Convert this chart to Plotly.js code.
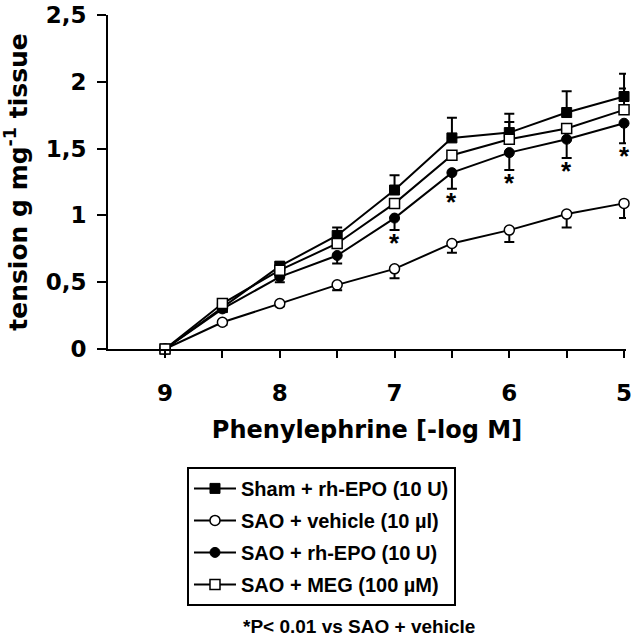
<!DOCTYPE html>
<html><head><meta charset="utf-8">
<script src="https://cdn.plot.ly/plotly-3.0.1.min.js"></script>
<style>html,body{margin:0;padding:0;background:#fff;}#chart{width:631px;height:640px;}</style>
</head><body><div id="chart"></div>
<script>
const doses = [9, 8.5, 8, 7.5, 7, 6.5, 6, 5.5, 5];
const seriesNames = ["Sham + rh-EPO (10 U)", "SAO + vehicle (10 µl)", "SAO + rh-EPO (10 U)", "SAO + MEG (100 µM)"];
const shamEpo = [0, 0.31, 0.62, 0.85, 1.19, 1.58, 1.62, 1.77, 1.89];
const shamEpoErrUp = [0, 0.02, 0.03, 0.06, 0.11, 0.15, 0.14, 0.16, 0.17];
const saoVehicle = [0, 0.20, 0.34, 0.48, 0.60, 0.79, 0.89, 1.01, 1.09];
const saoVehicleErrDown = [0, 0.02, 0.02, 0.04, 0.07, 0.07, 0.09, 0.10, 0.11];
const saoEpo = [0, 0.30, 0.54, 0.70, 0.98, 1.32, 1.47, 1.57, 1.69];
const saoEpoErrDown = [0, 0.02, 0.04, 0.06, 0.09, 0.12, 0.13, 0.14, 0.15];
const saoMeg = [0, 0.34, 0.59, 0.79, 1.09, 1.45, 1.57, 1.65, 1.79];
const saoMegErrUp = [0, 0, 0, 0, 0, 0, 0.13, 0, 0.16];
const significant = [false, false, false, false, true, true, true, true, true];
const yTickVals = [0, 0.5, 1, 1.5, 2, 2.5];
const xTickVals = [9, 8, 7, 6, 5];
const xTickText = ["9", "8", "7", "6", "5"];
const footnote = "*P< 0.01 vs SAO + vehicle";

const AXFONT = "DejaVu Sans, Verdana, sans-serif";
const FONT = "Liberation Sans, Arial, sans-serif";
const lineStyle = {color: "#000", width: 2};
function errUp(arr){return {type:"data", symmetric:false, array:arr, arrayminus:arr.map(()=>0), color:"#000", thickness:2, width:5};}
function errDown(arr){return {type:"data", symmetric:false, array:arr.map(()=>0), arrayminus:arr, color:"#000", thickness:2, width:5};}

const traces = [
  {x: doses, y: shamEpo, name: seriesNames[0], legendgroup: "a", mode: "lines+markers", line: lineStyle,
   marker: {symbol: "square", size: 10, color: "#000", line: {color: "#000", width: 1}}, error_y: errUp(shamEpoErrUp), cliponaxis:false},
  {x: doses, y: saoVehicle, name: seriesNames[1], legendgroup: "b", mode: "lines+markers", line: lineStyle,
   marker: {symbol: "circle", size: 10, color: "#fff", line: {color: "#000", width: 1.5}}, error_y: errDown(saoVehicleErrDown), cliponaxis:false},
  {x: doses, y: saoEpo, name: seriesNames[2], legendgroup: "c", mode: "lines+markers", line: lineStyle,
   marker: {symbol: "circle", size: 10, color: "#000", line: {color: "#000", width: 1}}, error_y: errDown(saoEpoErrDown), cliponaxis:false},
  {x: doses, y: saoMeg, name: seriesNames[3], legendgroup: "d", mode: "lines+markers", line: lineStyle,
   marker: {symbol: "square", size: 10, color: "#fff", line: {color: "#000", width: 1.5}}, error_y: errUp(saoMegErrUp), cliponaxis:false}
];

const annotations = [];
doses.forEach((d, i) => {
  if (significant[i]) {
    annotations.push({x: d, y: saoEpo[i] - saoEpoErrDown[i], xref: "x", yref: "y", text: "*", showarrow: false,
      yanchor: "top", yshift: 4, font: {family: FONT, size: 26, color: "#000", weight: "bold"}});
  }
});
annotations.push({x: 0.4846, y: -0.83, xref: "paper", yref: "paper", text: footnote, showarrow: false,
  xanchor: "center", yanchor: "middle", font: {family: FONT, size: 19, color: "#000", weight: "bold"}});

const layout = {
  width: 631, height: 640,
  margin: {l: 108, r: 5, t: 15, b: 291},
  paper_bgcolor: "#fff", plot_bgcolor: "#fff",
  separators: ",.",
  showlegend: true,
  font: {family: FONT, color: "#000"},
  xaxis: {
    range: [9.497, 4.983], autorange: false,
    tickvals: xTickVals, ticktext: xTickText,
    ticks: "outside", ticklen: 7, tickwidth: 2, tickcolor: "#000",
    minor: {dtick: 0.5, tick0: 5, ticks: "outside", ticklen: 7, tickwidth: 2, tickcolor: "#000"},
    showline: true, linecolor: "#000", linewidth: 2,
    showgrid: false, zeroline: false,
    ticklabelstandoff: 15, ticklabeloverflow: "allow",
    tickfont: {family: AXFONT, size: 23, color: "#000", weight: "bold"},
    title: {text: "Phenylephrine [-log M]", standoff: 17, font: {family: AXFONT, size: 24, color: "#000", weight: "bold"}}
  },
  yaxis: {
    range: [0, 2.5], autorange: false,
    tickvals: yTickVals,
    ticks: "outside", ticklen: 9, tickwidth: 2, tickcolor: "#000",
    showline: true, linecolor: "#000", linewidth: 2,
    showgrid: false, zeroline: false,
    ticklabelstandoff: 6, ticklabeloverflow: "allow",
    tickfont: {family: AXFONT, size: 23, color: "#000", weight: "bold"},
    title: {text: "tension g mg<sup>-1</sup> tissue", standoff: 11, font: {family: AXFONT, size: 25, color: "#000", weight: "bold"}}
  },
  legend: {
    x: 0.1525, y: -0.353, xanchor: "left", yanchor: "top",
    bordercolor: "#000", borderwidth: 2, bgcolor: "#fff",
    font: {family: FONT, size: 20, color: "#000", weight: "bold"},
    itemwidth: 42, tracegroupgap: 3
  },
  annotations: annotations
};

Plotly.newPlot("chart", traces, layout, {displayModeBar: false, staticPlot: true});
</script>
</body></html>
